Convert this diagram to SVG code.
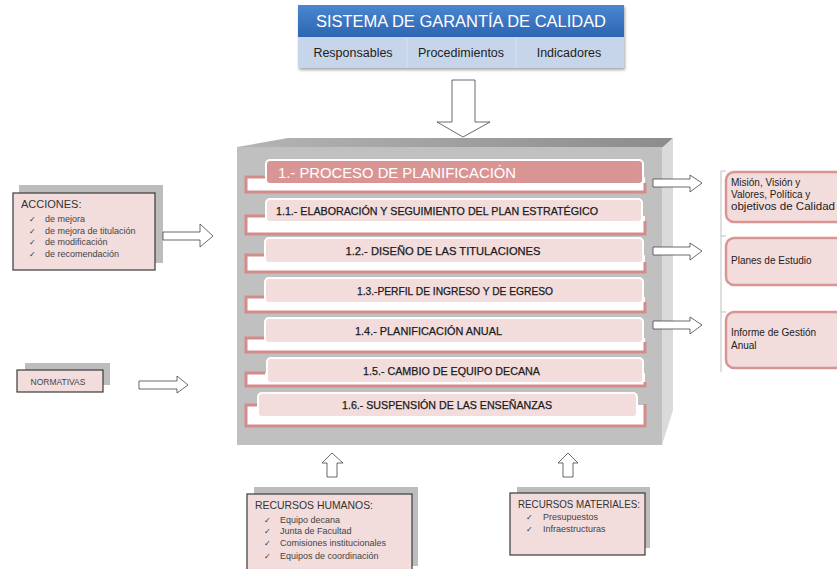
<svg xmlns="http://www.w3.org/2000/svg" width="837" height="569" viewBox="0 0 837 569">
<defs>
<linearGradient id="hdr" x1="0" y1="0" x2="0" y2="1"><stop offset="0" stop-color="#4a86d0"/><stop offset="1" stop-color="#2e65b2"/></linearGradient>
<linearGradient id="topface" x1="0" y1="0" x2="1" y2="0"><stop offset="0" stop-color="#b4b4b4"/><stop offset="1" stop-color="#8c8c8c"/></linearGradient>
<filter id="sh" x="-5%" y="-10%" width="115%" height="130%"><feDropShadow dx="1" dy="2" stdDeviation="1.5" flood-color="#000" flood-opacity="0.35"/></filter>
<style>
text{font-family:"Liberation Sans","DejaVu Sans",sans-serif;}
.row{font-size:11px;fill:#1a1a1a;stroke:#1a1a1a;stroke-width:0.25;}
.hollow{fill:#fff;stroke:#444;stroke-width:0.8;}
.shadow{fill:#bdbdbd;}
.card{fill:#f2dcdc;stroke:#3a3a3a;stroke-width:1.2;}
.lbl{font-size:11px;fill:#333;}
.itm{font-size:9px;fill:#444;}
.chk{font-family:"DejaVu Sans",sans-serif;font-size:8px;fill:#333;}
.back{fill:#fff;}
.edge{fill:none;stroke:#d48c8b;stroke-width:3;}
.pill{fill:#f2dcdc;stroke:#fff;stroke-width:2;}
.outbox{fill:#f2dcdc;stroke:#d99594;stroke-width:2.5;}
.outtx{font-family:"Liberation Sans",sans-serif;font-size:10px;fill:#222;}
</style>
</defs>

<!-- Top system box -->
<g id="sistema">
<g filter="url(#sh)">
<rect x="298" y="5" width="326" height="63" fill="#c7d5ea"/>
<rect x="298" y="5" width="326" height="32" fill="url(#hdr)"/>
</g>
<line x1="407" y1="38" x2="407" y2="68" stroke="#d6e0f0" stroke-width="1"/>
<line x1="516" y1="38" x2="516" y2="68" stroke="#d6e0f0" stroke-width="1"/>
<text x="461" y="27" font-family="Open Sans, Liberation Sans, sans-serif" font-size="16" fill="#fff" text-anchor="middle" textLength="290" lengthAdjust="spacingAndGlyphs">SISTEMA DE GARANTÍA DE CALIDAD</text>
<text x="353" y="57" font-family="Open Sans, Liberation Sans, sans-serif" font-size="12.5" fill="#222" text-anchor="middle">Responsables</text>
<text x="461" y="57" font-family="Open Sans, Liberation Sans, sans-serif" font-size="12.5" fill="#222" text-anchor="middle">Procedimientos</text>
<text x="569" y="57" font-family="Open Sans, Liberation Sans, sans-serif" font-size="12.5" fill="#222" text-anchor="middle">Indicadores</text>
</g>

<!-- Main process block -->
<g id="bloque">
<polygon points="237,147 288,138 673,138 662,148" fill="url(#topface)"/>
<polygon points="662,148 673,138 673,410 662,445" fill="#dadada"/>
<rect x="237" y="147" width="425" height="298" fill="#c0c0c0"/>
</g>

<g id="p1">
<rect class="back" x="245" y="177" width="400" height="16"/>
<path class="edge" d="M265,177 H246 V192 H645 V183"/>
<rect x="266" y="160" width="377" height="24" rx="4" fill="#d99594" stroke="#fff" stroke-width="2"/>
<text x="278" y="178" font-family="Open Sans, Liberation Sans, sans-serif" font-size="15.5" fill="#fff" textLength="238" lengthAdjust="spacingAndGlyphs">1.- PROCESO  DE PLANIFICACIÓN</text>
</g>

<g id="p11">
<rect class="back" x="245" y="216" width="400" height="19"/>
<path class="edge" d="M265,216 H246 V234 H645 V221"/>
<rect class="pill" x="266" y="199" width="376" height="23" rx="4"/>
<text class="row" x="276" y="215" textLength="322" lengthAdjust="spacingAndGlyphs">1.1.- ELABORACIÓN Y SEGUIMIENTO DEL PLAN ESTRATÉGICO</text>
</g>

<g id="p12">
<rect class="back" x="245" y="255" width="400" height="18"/>
<path class="edge" d="M265,255 H246 V272 H645 V262"/>
<rect class="pill" x="265" y="238" width="378" height="25" rx="4"/>
<text class="row" x="443" y="255" text-anchor="middle" textLength="195" lengthAdjust="spacingAndGlyphs">1.2.- DISEÑO DE LAS TITULACIONES</text>
</g>

<g id="p13">
<rect class="back" x="245" y="297" width="400" height="16"/>
<path class="edge" d="M265,297 H246 V312 H645 V302"/>
<rect class="pill" x="265" y="278" width="378" height="25" rx="4"/>
<text class="row" x="455" y="295" text-anchor="middle" textLength="196" lengthAdjust="spacingAndGlyphs">1.3.-PERFIL DE INGRESO Y DE EGRESO</text>
</g>

<g id="p14">
<rect class="back" x="245" y="338" width="400" height="15"/>
<path class="edge" d="M265,338 H246 V352 H645 V342"/>
<rect class="pill" x="265" y="318" width="378" height="25" rx="4"/>
<text class="row" x="355" y="335" textLength="147" lengthAdjust="spacingAndGlyphs">1.4.- PLANIFICACIÓN ANUAL</text>
</g>

<g id="p15">
<rect class="back" x="245" y="373" width="400" height="14"/>
<path class="edge" d="M265,373 H246 V386 H645 V382"/>
<rect class="pill" x="267" y="358" width="376" height="25" rx="4"/>
<text class="row" x="363" y="375" textLength="177" lengthAdjust="spacingAndGlyphs">1.5.- CAMBIO DE EQUIPO DECANA</text>
</g>

<g id="p16">
<rect class="back" x="245" y="405" width="400" height="22"/>
<path class="edge" d="M258,405 H246 V426 H645 V404"/>
<rect class="pill" x="258" y="393" width="379" height="24" rx="4"/>
<text class="row" x="342" y="409" textLength="210" lengthAdjust="spacingAndGlyphs">1.6.- SUSPENSIÓN DE LAS ENSEÑANZAS</text>
</g>

<!-- Left inputs -->
<g id="acciones">
<rect class="shadow" x="19" y="185" width="144" height="78"/>
<rect class="card" x="13" y="193" width="142" height="77"/>
<text class="lbl" x="21" y="208">ACCIONES:</text>
<text class="chk" x="29" y="222">✓</text><text class="itm" x="45" y="222">de mejora</text>
<text class="chk" x="29" y="234">✓</text><text class="itm" x="45" y="234">de mejora de titulación</text>
<text class="chk" x="29" y="245">✓</text><text class="itm" x="45" y="245">de modificación</text>
<text class="chk" x="29" y="257">✓</text><text class="itm" x="45" y="257">de recomendación</text>
</g>

<g id="normativas">
<rect class="shadow" x="25" y="363" width="85" height="22"/>
<rect class="card" x="17" y="370" width="86" height="22"/>
<text x="58" y="385" font-size="8.5" fill="#444" text-anchor="middle">NORMATIVAS</text>
</g>

<!-- Bottom resources -->
<g id="rhumanos">
<rect class="shadow" x="254" y="487" width="164" height="79"/>
<rect class="card" x="247" y="494" width="165" height="80"/>
<text class="lbl" x="255" y="509" textLength="118" lengthAdjust="spacingAndGlyphs">RECURSOS HUMANOS:</text>
<text class="chk" x="264" y="523">✓</text><text class="itm" x="280" y="523">Equipo decana</text>
<text class="chk" x="264" y="534">✓</text><text class="itm" x="280" y="534">Junta de Facultad</text>
<text class="chk" x="264" y="546">✓</text><text class="itm" x="280" y="546">Comisiones institucionales</text>
<text class="chk" x="264" y="559">✓</text><text class="itm" x="280" y="559">Equipos de coordinación</text>
</g>

<g id="rmateriales">
<rect class="shadow" x="517" y="487" width="133" height="61"/>
<rect class="card" x="510" y="493" width="135" height="62"/>
<text class="lbl" x="518" y="508" textLength="122" lengthAdjust="spacingAndGlyphs">RECURSOS MATERIALES:</text>
<text class="chk" x="526" y="520">✓</text><text class="itm" x="543" y="520">Presupuestos</text>
<text class="chk" x="526" y="532">✓</text><text class="itm" x="543" y="532">Infraestructuras</text>
</g>

<!-- Outputs -->
<g id="salidas">
<path d="M721,171 V372" stroke="#bfbfbf" stroke-width="1" fill="none"/>
<path d="M721,171 H726 M721,236 H726 M721,312 H726" stroke="#bfbfbf" stroke-width="1"/>
</g>
<g id="mision">
<rect class="outbox" x="726" y="172" width="125" height="50" rx="8"/>
<text class="outtx" x="731" y="186">Misión, Visión y</text>
<text class="outtx" x="731" y="198">Valores, Política y</text>
<text class="outtx" x="731" y="210" textLength="104" lengthAdjust="spacingAndGlyphs">objetivos de Calidad</text>
</g>
<g id="planes">
<rect class="outbox" x="726" y="238" width="125" height="47" rx="8"/>
<text class="outtx" x="731" y="264">Planes de Estudio</text>
</g>
<g id="informe">
<rect class="outbox" x="726" y="312" width="125" height="56" rx="8"/>
<text class="outtx" x="731" y="336">Informe de Gestión</text>
<text class="outtx" x="731" y="349">Anual</text>
</g>

<!-- Connectors (block arrows) -->
<g id="conectores">
<polygon class="hollow" points="452,80 475,80 475,122 490,122 463,137 437,122 452,122"/>
<polygon class="hollow" points="653,179 690,179 690,175 702,183 690,192 690,187 653,187"/>
<polygon class="hollow" points="653,247 690,247 690,243 702,251 690,260 690,255 653,255"/>
<polygon class="hollow" points="653,321 690,321 690,317 702,325 690,334 690,329 653,329"/>
<polygon class="hollow" points="163,232 200,232 200,224 213,236 200,247 200,240 163,240"/>
<polygon class="hollow" points="139,381 177,381 177,376 188,385 177,393 177,389 139,389"/>
<polygon class="hollow" points="327,477 327,463 322,463 332,453 343,463 337,463 337,477"/>
<polygon class="hollow" points="563,477 563,463 558,463 568,453 578,463 573,463 573,477"/>
</g>
</svg>
